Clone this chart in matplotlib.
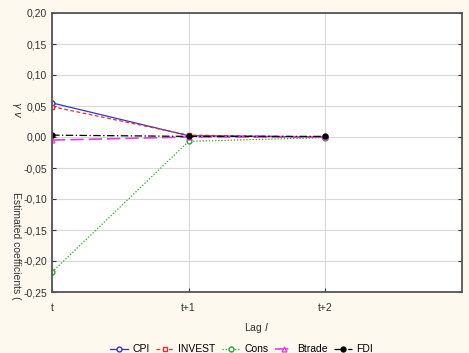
import numpy as np
import matplotlib
matplotlib.use('Agg')
import matplotlib.pyplot as plt
from matplotlib.ticker import FuncFormatter

plt.rcParams['font.family'] = ['Liberation Sans', 'DejaVu Sans']

lags = [0, 1, 2]
lag_labels = ['t', 't+1', 't+2']
cpi = [0.055, 0.002, 0.000]
invest = [0.049, 0.003, 0.000]
cons = [-0.218, -0.007, -0.001]
btrade = [-0.005, 0.000, 0.000]
fdi = [0.003, 0.001, 0.001]

bg = '#fdf9ee'
fig = plt.figure(figsize=(4.69, 3.53), dpi=100, facecolor=bg)
ax = fig.add_axes([52/469, 1-292/353, 410/469, 279/353])
ax.set_facecolor('white')

ax.plot(lags, cpi, color='#3333cc', lw=0.9, ls='-', marker='o', ms=3.5, mfc='white', label='CPI')
ax.plot(lags, invest, color='#e03030', lw=0.9, ls=(0, (3, 2)), marker='s', ms=3.5, mfc='white', label='INVEST')
ax.plot(lags, cons, color='#30a030', lw=0.9, ls=(0, (1, 1.5)), marker='o', ms=3.5, mfc='white', label='Cons')
ax.plot(lags, btrade, color='#e040e0', lw=1.2, ls=(0, (8, 3)), marker='^', ms=3.5, mfc='white', label='Btrade')
ax.plot(lags, fdi, color='black', lw=0.9, ls=(0, (6, 2, 1, 2)), marker='o', ms=3.5, mfc='black', label='FDI')

ax.set_xlim(0, 3)
ax.set_ylim(-0.25, 0.20)
ax.set_xticks(lags)
ax.set_xticklabels(lag_labels)
ax.set_yticks(np.arange(-0.25, 0.2001, 0.05))
ax.yaxis.set_major_formatter(FuncFormatter(lambda v, p: f'{v:.2f}'.replace('.', ',').replace('-0,00', '0,00')))
ax.tick_params(labelsize=7.5, colors='#333333', direction='in', length=3, right=True)
ax.tick_params(axis='x', pad=8)
ax.grid(color='#d8d8d8', lw=0.8)
ax.set_axisbelow(True)
for s in ax.spines.values():
    s.set_color('#555555')
    s.set_linewidth(1.3)

ax.set_xlabel('Lag $\\it{l}$', fontsize=7.5, color='#333333', labelpad=6)
# y label drawn in two pieces, reading downwards
fig.text(16/469, 1-110/353, '$\\gamma\\ v$', rotation=-90,
         fontsize=7.5, color='#333333', ha='center', va='center')
fig.text(16/469, 1-246/353, 'Estimated coefficients (', rotation=-90,
         fontsize=7.5, color='#333333', ha='center', va='center')

fig.legend(loc='lower center', bbox_to_anchor=(0.515, -0.03), ncol=5, frameon=False, fontsize=7.5,
           handlelength=1.75, columnspacing=0.6, handletextpad=0.4)

fig.savefig('out.png', dpi=100, facecolor=bg)
